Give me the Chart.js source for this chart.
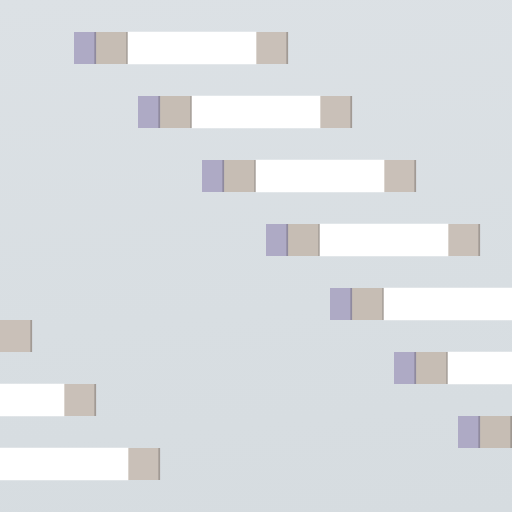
<!DOCTYPE html>
<html>
<head>
<meta charset="utf-8">
<script src="https://cdn.jsdelivr.net/npm/chart.js@4/dist/chart.umd.min.js"></script>
<style>
html,body{margin:0;padding:0;background:#d9dfe3;}
body{background:linear-gradient(175deg,#dce1e5 0%,#d8dee2 60%,#d6dce0 100%);width:512px;height:512px;overflow:hidden;}
canvas{display:block;}
</style>
</head>
<body>
<canvas id="c" width="512" height="512"></canvas>
<script>
// Row categories (16 rows, top to bottom)
const rows = ["r0","r1","r2","r3","r4","r5","r6","r7","r8","r9","r10","r11","r12","r13","r14","r15"];
// Floating segment ranges [start, end] per row (null = none)
const leadSeg  = [null,[74,96],null,[138,160],null,[202,224],null,[266,288],null,[330,352],null,[394,416],null,[458,480],null,null];
const firstSeg = [null,[96,128],null,[160,192],null,[224,256],null,[288,320],null,[352,384],null,[416,448],null,[480,512],null,null];
const mainSeg  = [null,[128,256],null,[192,320],null,[256,384],null,[320,448],null,[384,512],null,[448,512],[0,64],null,[0,128],null];
const lastSeg  = [null,[256,288],null,[320,352],null,[384,416],null,[448,480],null,null,[0,32],null,[64,96],null,[128,160],null];
const xMin = 0, xMax = 512;

const common = {grouped:false, categoryPercentage:1, barPercentage:1, borderSkipped:false};
new Chart(document.getElementById('c'), {
  type:'bar',
  data:{
    labels:rows,
    datasets:[
      Object.assign({data:mainSeg, backgroundColor:'#ffffff', borderWidth:0}, common),
      Object.assign({data:leadSeg, backgroundColor:'#aeaac5', borderColor:'#8f8a9e', borderWidth:{left:0,top:0,bottom:0,right:2}}, common),
      Object.assign({data:firstSeg, backgroundColor:'#c6bdb4', borderColor:'#9f9892', borderWidth:{left:0,top:0,bottom:0,right:2}}, common),
      Object.assign({data:lastSeg, backgroundColor:'#c9c0b8', borderColor:'#a19a94', borderWidth:{left:0,top:0,bottom:0,right:2}}, common)
    ]
  },
  options:{
    indexAxis:'y',
    responsive:false,
    animation:false,
    layout:{padding:0},
    plugins:{legend:{display:false},tooltip:{enabled:false}},
    scales:{
      x:{type:'linear',min:xMin,max:xMax,display:false},
      y:{type:'category',display:false,offset:true}
    }
  }
});
</script>
</body>
</html>
